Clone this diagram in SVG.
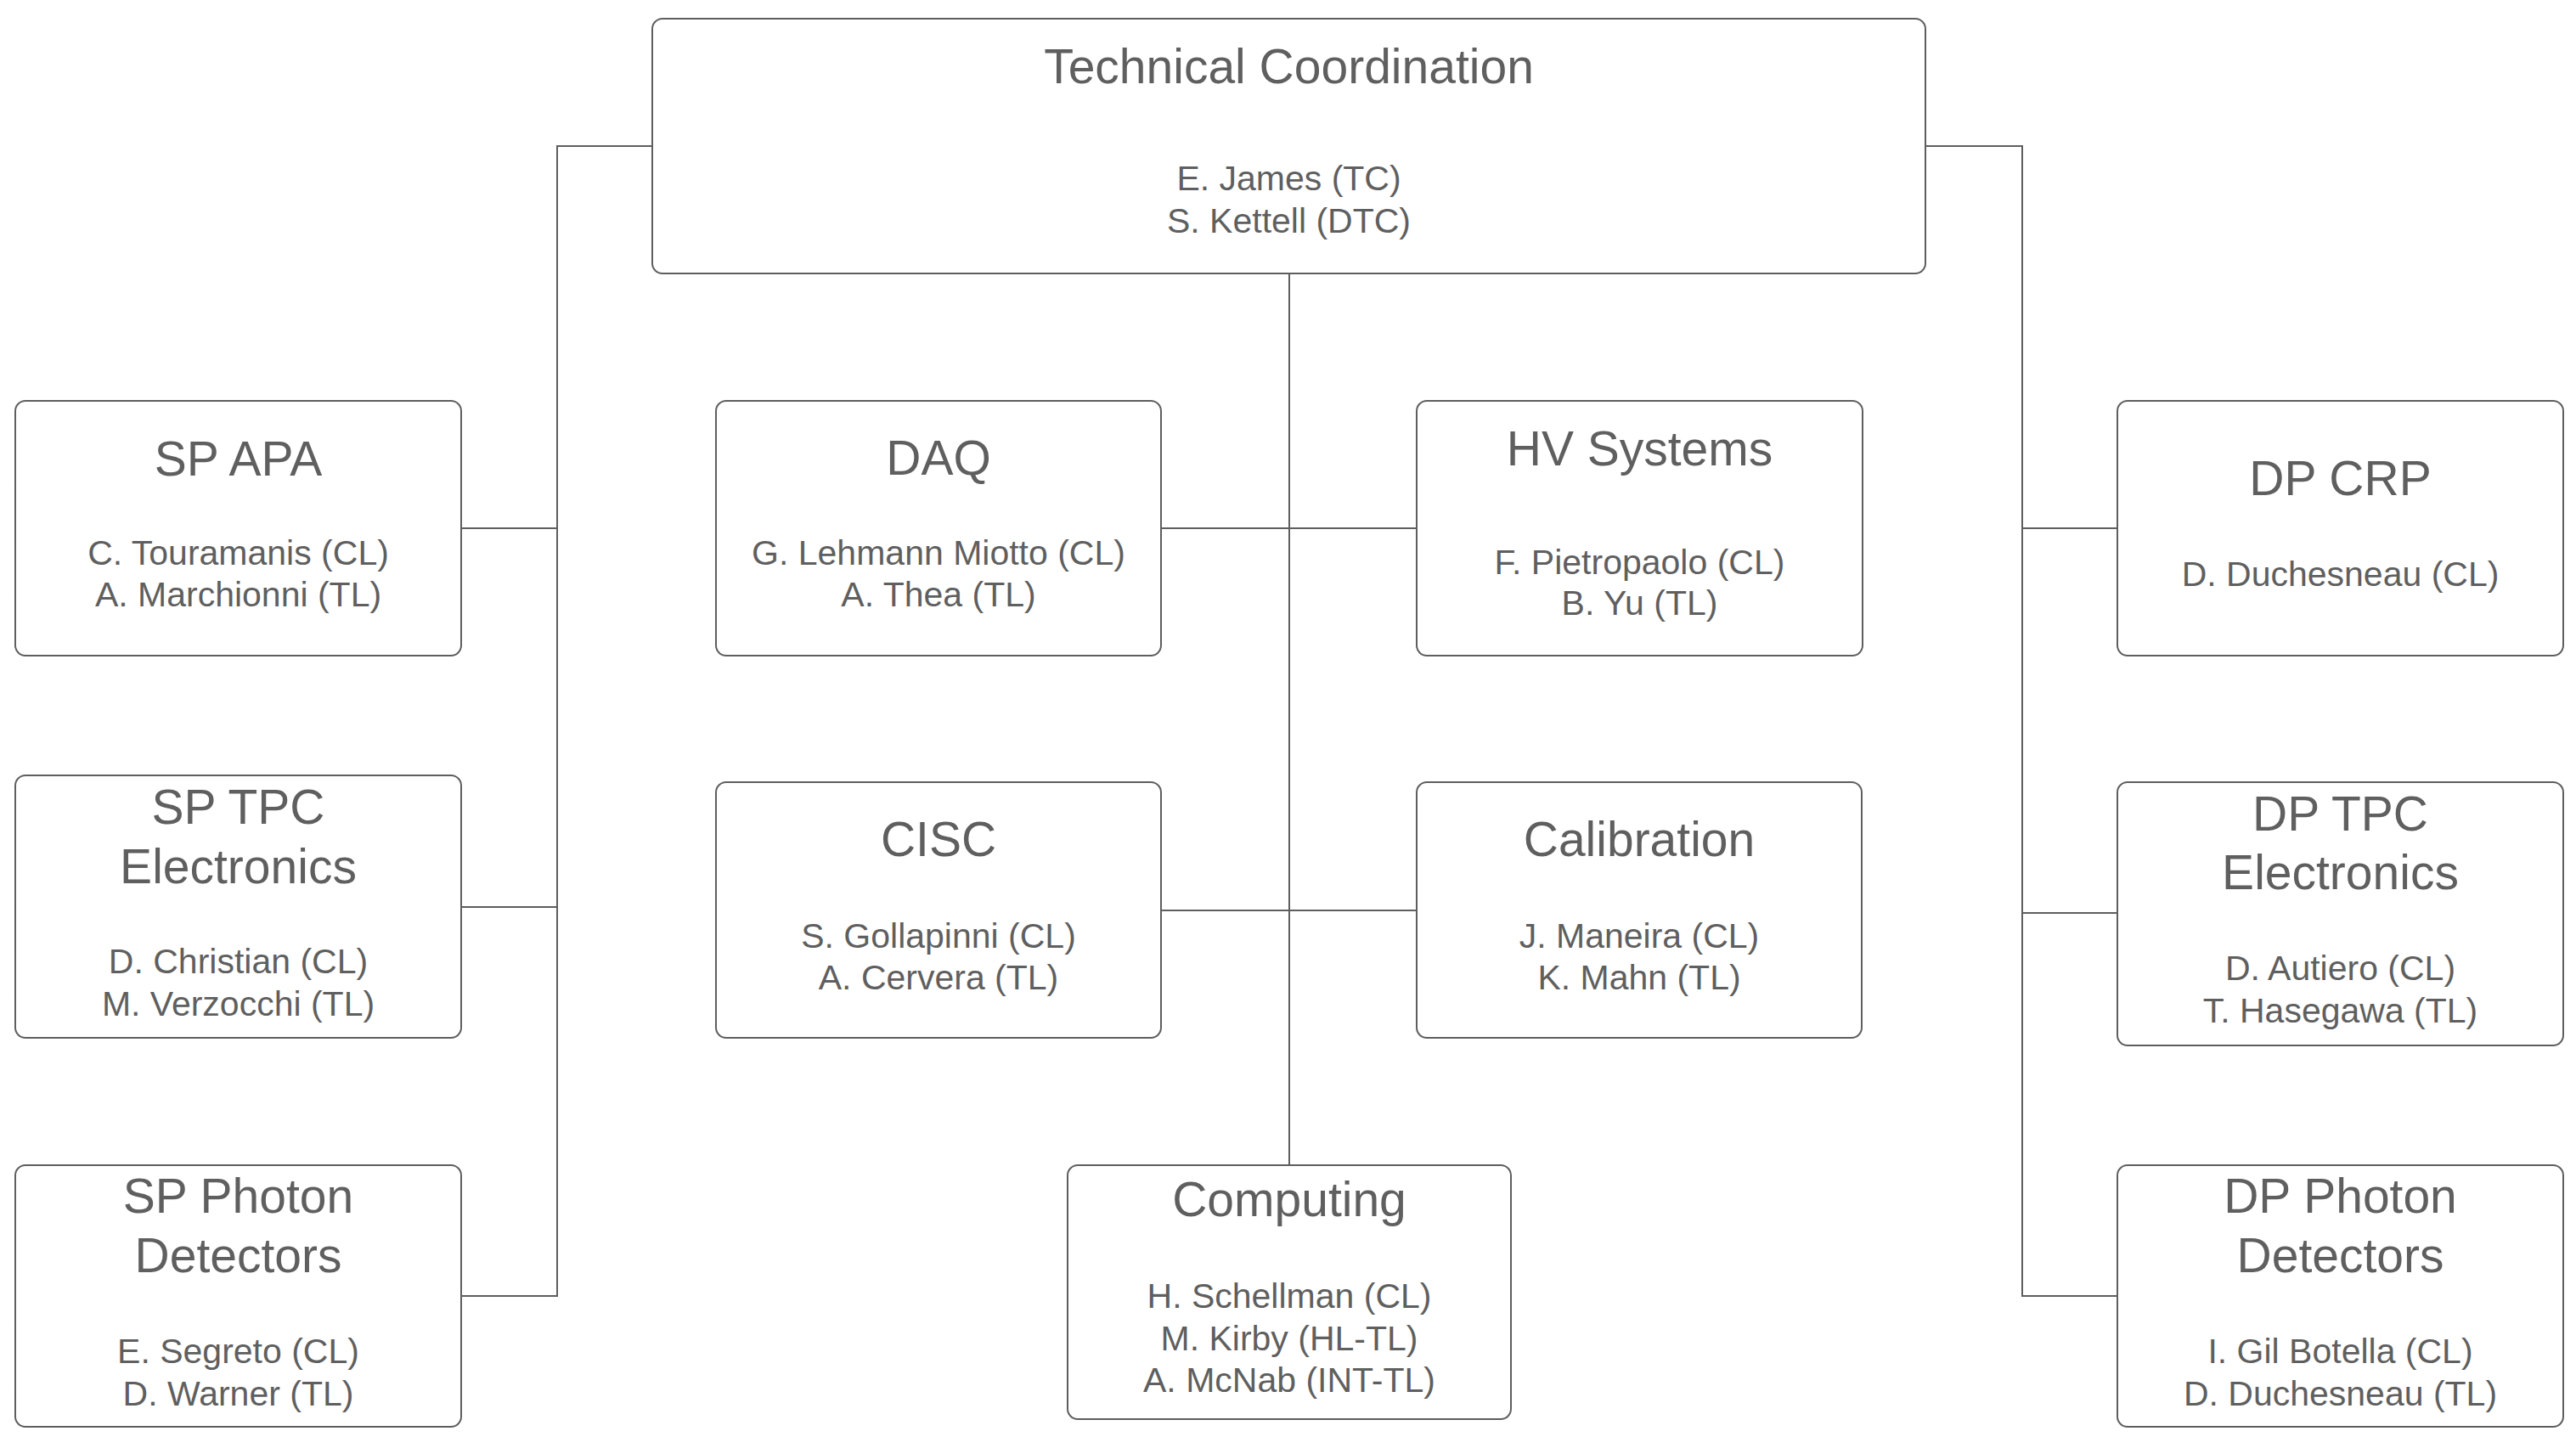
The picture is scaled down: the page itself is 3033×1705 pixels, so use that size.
<svg xmlns="http://www.w3.org/2000/svg" width="3033" height="1705" viewBox="0 0 3033 1705">
<style>
.box{fill:#ffffff;stroke:#5e5e5e;stroke-width:2}
.ln{fill:none;stroke:#5e5e5e;stroke-width:2}
text{font-family:"Liberation Sans",Arial,sans-serif;fill:#5f5f5f;text-anchor:middle}
.t{font-size:57px}
.n{font-size:41px}
</style>
<rect width="3033" height="1705" fill="#ffffff"/>
<g id="connectors">
<path class="ln" d="M768,172 H656 V1526 H543 M656,622 H543 M656,1068 H543"/>
<path class="ln" d="M2267,172 H2381 V1526 H2493 M2381,622 H2493 M2381,1075 H2493"/>
<path class="ln" d="M1518,322 V1372 M1367,622 H1668 M1367,1072 H1668"/>
</g>
<g id="tc">
<rect class="box" x="768" y="22" width="1499" height="300" rx="12"/>
<text class="t" x="1517.5" y="98">Technical Coordination</text>
<text class="n" x="1517.5" y="224">E. James (TC)</text>
<text class="n" x="1517.5" y="274">S. Kettell (DTC)</text>
</g>
<g id="sp-apa">
<rect class="box" x="18" y="472" width="525" height="300" rx="12"/>
<text class="t" x="280.5" y="560">SP APA</text>
<text class="n" x="280.5" y="665">C. Touramanis (CL)</text>
<text class="n" x="280.5" y="714">A. Marchionni (TL)</text>
</g>
<g id="daq">
<rect class="box" x="843" y="472" width="524" height="300" rx="12"/>
<text class="t" x="1105" y="559">DAQ</text>
<text class="n" x="1105" y="665">G. Lehmann Miotto (CL)</text>
<text class="n" x="1105" y="714">A. Thea (TL)</text>
</g>
<g id="hv">
<rect class="box" x="1668" y="472" width="525" height="300" rx="12"/>
<text class="t" x="1930.5" y="548">HV Systems</text>
<text class="n" x="1930.5" y="676">F. Pietropaolo (CL)</text>
<text class="n" x="1930.5" y="724">B. Yu (TL)</text>
</g>
<g id="dp-crp">
<rect class="box" x="2493" y="472" width="525" height="300" rx="12"/>
<text class="t" x="2755.5" y="583">DP CRP</text>
<text class="n" x="2755.5" y="690">D. Duchesneau (CL)</text>
</g>
<g id="sp-tpc">
<rect class="box" x="18" y="913" width="525" height="309" rx="12"/>
<text class="t" x="280.5" y="970">SP TPC</text>
<text class="t" x="280.5" y="1040">Electronics</text>
<text class="n" x="280.5" y="1146">D. Christian (CL)</text>
<text class="n" x="280.5" y="1196">M. Verzocchi (TL)</text>
</g>
<g id="cisc">
<rect class="box" x="843" y="921" width="524" height="301" rx="12"/>
<text class="t" x="1105" y="1008">CISC</text>
<text class="n" x="1105" y="1116">S. Gollapinni (CL)</text>
<text class="n" x="1105" y="1165">A. Cervera (TL)</text>
</g>
<g id="calibration">
<rect class="box" x="1668" y="921" width="524" height="301" rx="12"/>
<text class="t" x="1930" y="1008">Calibration</text>
<text class="n" x="1930" y="1116">J. Maneira (CL)</text>
<text class="n" x="1930" y="1165">K. Mahn (TL)</text>
</g>
<g id="dp-tpc">
<rect class="box" x="2493" y="921" width="525" height="310" rx="12"/>
<text class="t" x="2755.5" y="978">DP TPC</text>
<text class="t" x="2755.5" y="1047">Electronics</text>
<text class="n" x="2755.5" y="1154">D. Autiero (CL)</text>
<text class="n" x="2755.5" y="1204">T. Hasegawa (TL)</text>
</g>
<g id="sp-pd">
<rect class="box" x="18" y="1372" width="525" height="308" rx="12"/>
<text class="t" x="280.5" y="1428">SP Photon</text>
<text class="t" x="280.5" y="1498">Detectors</text>
<text class="n" x="280.5" y="1605">E. Segreto (CL)</text>
<text class="n" x="280.5" y="1655">D. Warner (TL)</text>
</g>
<g id="computing">
<rect class="box" x="1257" y="1372" width="522" height="299" rx="12"/>
<text class="t" x="1518" y="1432">Computing</text>
<text class="n" x="1518" y="1540">H. Schellman (CL)</text>
<text class="n" x="1518" y="1590">M. Kirby (HL-TL)</text>
<text class="n" x="1518" y="1639">A. McNab (INT-TL)</text>
</g>
<g id="dp-pd">
<rect class="box" x="2493" y="1372" width="525" height="308" rx="12"/>
<text class="t" x="2755.5" y="1428">DP Photon</text>
<text class="t" x="2755.5" y="1498">Detectors</text>
<text class="n" x="2755.5" y="1605">I. Gil Botella (CL)</text>
<text class="n" x="2755.5" y="1655">D. Duchesneau (TL)</text>
</g>
</svg>
